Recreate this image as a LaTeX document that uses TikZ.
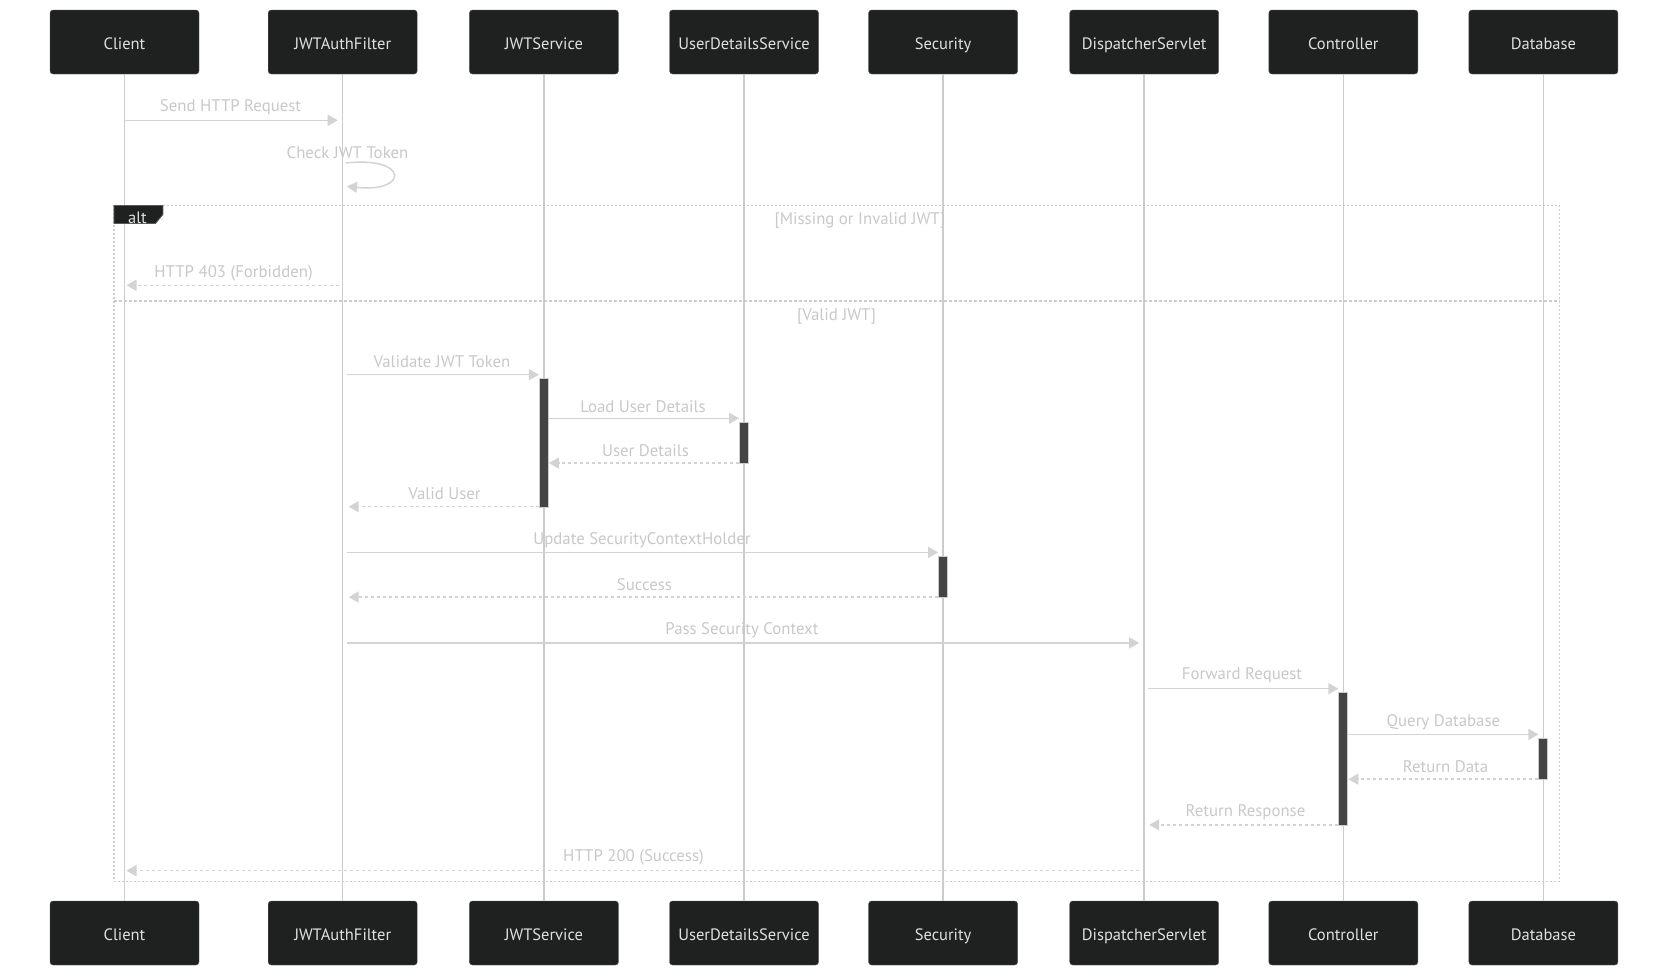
\documentclass[tikz,border=0pt]{standalone}
\usepackage{fontspec}
\setmainfont{PT Sans}
\usetikzlibrary{arrows.meta,positioning}
\definecolor{boxbg}{HTML}{1F2020}
\definecolor{boxline}{HTML}{5A5A5A}
\definecolor{lifec}{HTML}{CCCCCC}
\definecolor{msgc}{HTML}{D3D3D3}
\definecolor{labc}{HTML}{C8C8C8}
\definecolor{actbg}{HTML}{444444}

\begin{document}
\begin{tikzpicture}[x=1pt,y=-1pt,
 actor/.style={draw=boxline,fill=boxbg,rounded corners=3pt,minimum width=149pt,minimum height=64pt,inner sep=0pt,text height=15pt,text depth=0pt,text=white!88!black,font=\fontsize{16.5}{19}\selectfont},
 life/.style={draw=lifec,line width=1.5pt},
 msg/.style={draw=msgc,line width=1.5pt,-{Triangle[length=10pt,width=11pt]}},
 ret/.style={msg,dash pattern=on 3pt off 3pt},
 lab/.style={text=labc,inner sep=0pt,text height=15pt,text depth=0pt,font=\fontsize{16.8}{19}\selectfont},
 actv/.style={draw=lifec,fill=actbg,line width=1pt,minimum width=9pt,inner sep=0pt,anchor=north},
 frm/.style={draw=lifec,line width=1.5pt,dash pattern=on 2pt off 2pt}]
\useasboundingbox (0,0) rectangle (1669,977);
% participants, top and bottom
\node[actor] (cl) at (124.5,42) {Client};
\node[actor] (jf) at (342.7,42) {JWTAuthFilter};
\node[actor] (js) at (543.9,42) {JWTService};
\node[actor] (ud) at (744.0,42) {UserDetailsService};
\node[actor] (sc) at (943.1,42) {Security};
\node[actor] (ds) at (1144.2,42) {DispatcherServlet};
\node[actor] (ct) at (1343.3,42) {Controller};
\node[actor] (db) at (1543.4,42) {Database};
\node[actor] (clb) at (124.5,933) {Client};
\node[actor] (jfb) at (342.7,933) {JWTAuthFilter};
\node[actor] (jsb) at (543.9,933) {JWTService};
\node[actor] (udb) at (744.0,933) {UserDetailsService};
\node[actor] (scb) at (943.1,933) {Security};
\node[actor] (dsb) at (1144.2,933) {DispatcherServlet};
\node[actor] (ctb) at (1343.3,933) {Controller};
\node[actor] (dbb) at (1543.4,933) {Database};
% lifelines
\draw[life] (cl) -- (clb); \draw[life] (jf) -- (jfb);
\draw[life] (js) -- (jsb); \draw[life] (ud) -- (udb);
\draw[life] (sc) -- (scb); \draw[life] (ds) -- (dsb);
\draw[life] (ct) -- (ctb); \draw[life] (db) -- (dbb);
% alt frame
\draw[frm] (113.9,205.4) rectangle (1559.4,881.3);
\draw[frm,dash pattern=on 3pt off 2pt] (113.9,301.2) -- (1559.4,301.2);
\filldraw[fill=boxbg,draw=boxline,line width=0.8pt] (113.9,205.4) -- (162.9,205.4) -- (162.9,214.5) -- (155.5,223.5) -- (113.9,223.5) -- cycle;
\node[text=white!88!black,font=\fontsize{16.5}{19}\selectfont,inner sep=0pt,text height=15pt,text depth=0pt] (alt) at (137.5,215.5) {alt};
\node[lab] (g1) at (860,216.5) {[Missing or Invalid JWT]};
\node[lab] (g2) at (836.6,312.5) {[Valid JWT]};
% activations
\node[actv,minimum height=128.8pt] (ajs) at (js |- 0,377.9) {};
\node[actv,minimum height=41.5pt] (aud) at (ud |- 0,421.5) {};
\node[actv,minimum height=41.5pt] (asc) at (sc |- 0,555.6) {};
\node[actv,minimum height=133pt] (actl) at (ct |- 0,691.9) {};
\node[actv,minimum height=41.6pt] (adb) at (db |- 0,737.6) {};
% messages
\node[lab] (m1) at (230.5,103.5) {Send HTTP Request};
\draw[msg,shorten >=5pt] (cl |- 0,120.3) -- (jf |- 0,120.3);
\node[lab] (m2) at (347.5,150.5) {Check JWT Token};
\coordinate (lp1) at (346,163);
\coordinate (lp2) at (347,186.3);
\draw[msg] (lp1) .. controls (409,156) and (409,193) .. (lp2);
\node[lab] (m3) at (233.6,269.5) {HTTP 403 (Forbidden)};
\draw[ret,shorten <=4pt,shorten >=2pt] (jf |- 0,285.3) -- (cl |- 0,285.3);
\node[lab] (m4) at (442,360) {Validate JWT Token};
\draw[msg,shorten <=4pt] (jf |- 0,374.7) -- (ajs.west |- 0,374.7);
\node[lab] (m5) at (643,404.5) {Load User Details};
\draw[msg] (ajs.east |- 0,418.3) -- (aud.west |- 0,418.3);
\node[lab] (m6) at (645.5,448.5) {User Details};
\draw[ret] (aud.west |- 0,463) -- (ajs.east |- 0,463);
\node[lab] (m7) at (444.5,492) {Valid User};
\draw[ret,shorten >=6pt] (ajs.west |- 0,506.7) -- (jf |- 0,506.7);
\node[lab] (m8) at (642,536.5) {Update SecurityContextHolder};
\draw[msg,shorten <=4pt] (jf |- 0,552.4) -- (asc.west |- 0,552.4);
\node[lab] (m9) at (644.5,582.5) {Success};
\draw[ret,shorten >=6pt] (asc.west |- 0,597.1) -- (jf |- 0,597.1);
\node[lab] (m10) at (742,626.5) {Pass Security Context};
\draw[msg,shorten <=4pt,shorten >=5pt] (jf |- 0,642.9) -- (ds |- 0,642.9);
\node[lab] (m11) at (1242,672) {Forward Request};
\draw[msg,shorten <=4pt] (ds |- 0,688.7) -- (actl.west |- 0,688.7);
\node[lab] (m12) at (1443.4,718.5) {Query Database};
\draw[msg] (actl.east |- 0,734.4) -- (adb.west |- 0,734.4);
\node[lab] (m13) at (1445.5,764.5) {Return Data};
\draw[ret] (adb.west |- 0,779.2) -- (actl.east |- 0,779.2);
\node[lab] (m14) at (1245.5,808.5) {Return Response};
\draw[ret,shorten >=5pt] (actl.west |- 0,824.9) -- (ds |- 0,824.9);
\node[lab] (m15) at (633.5,854) {HTTP 200 (Success)};
\draw[ret,shorten <=5pt,shorten >=2pt] (ds |- 0,870.7) -- (cl |- 0,870.7);
\end{tikzpicture}
\end{document}
